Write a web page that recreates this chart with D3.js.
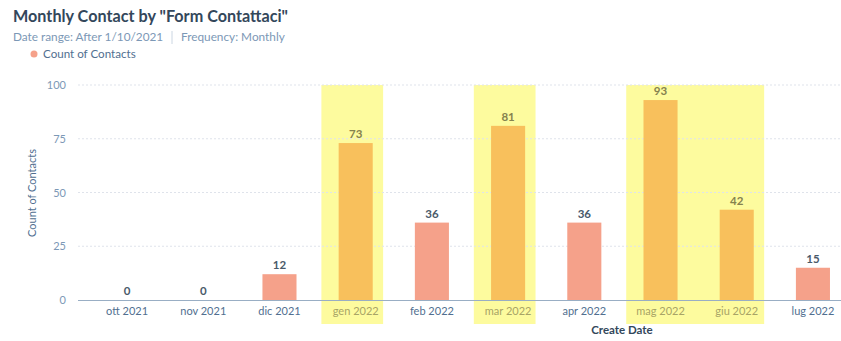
<!DOCTYPE html>
<html><head><meta charset="utf-8">
<script src="https://cdn.jsdelivr.net/npm/d3@7"></script>
<style>body{margin:0;background:#fff}svg{display:block}text{font-family:Lato,"Open Sans",sans-serif}</style>
</head><body>
<svg id="c" width="841" height="341"></svg>
<script>
const categories = ["ott 2021","nov 2021","dic 2021","gen 2022","feb 2022","mar 2022","apr 2022","mag 2022","giu 2022","lug 2022"];
const counts = [0,0,12,73,36,81,36,93,42,15];
const highlighted = [false,false,false,true,false,true,false,true,true,false];
const highlightGroups = [["gen 2022","gen 2022"],["mar 2022","mar 2022"],["mag 2022","giu 2022"]];
const yTicks = [0,25,50,75,100];

const svg = d3.select("#c");
const x = d3.scaleBand().domain(categories).range([89, 851]).paddingInner(0.553).paddingOuter(0.276);
const y = d3.scaleLinear().domain([0,100]).range([300, 85]);
const step = x.step();

// title
svg.append("text").attr("x",13).attr("y",22).attr("font-size",16.2).attr("font-weight",700).attr("fill","#33475b")
  .text('Monthly Contact by "Form Contattaci"');
svg.append("text").attr("x",13).attr("y",41).attr("font-size",11.8).attr("fill","#7c98b6").text("Date range: After 1/10/2021");
svg.append("line").attr("x1",172).attr("x2",172).attr("y1",31).attr("y2",44).attr("stroke","#cbd6e2");
svg.append("text").attr("x",181).attr("y",41).attr("font-size",11.8).attr("fill","#7c98b6").text("Frequency: Monthly");
svg.append("circle").attr("cx",34).attr("cy",54).attr("r",3.5).attr("fill","#f5a18a");
svg.append("text").attr("x",43).attr("y",58).attr("font-size",11.6).attr("fill","#516f90").text("Count of Contacts");

// highlights
highlightGroups.forEach(([a,b])=>{
  const x0 = x(a) + x.bandwidth()/2 - step*0.45;
  const x1 = x(b) + x.bandwidth()/2 + step*0.36;
  svg.append("rect").attr("x",x0).attr("y",85).attr("width",x1-x0).attr("height",239).attr("fill","#fdfb9e");
});

// grid
svg.append("g").selectAll("line").data(yTicks.filter(d=>d>0)).join("line")
  .attr("x1",78).attr("x2",841).attr("y1",d=>y(d)).attr("y2",d=>y(d))
  .attr("stroke","#dfe3eb").attr("stroke-dasharray","2,2");

// y axis labels
const yAxis = d3.axisLeft(y).tickValues(yTicks).tickSize(0).tickPadding(0);
const yg = svg.append("g").attr("transform","translate(66,0)").call(yAxis);
yg.select(".domain").remove();
yg.selectAll("text").attr("font-size",11).attr("fill","#7c98b6").attr("font-family","Lato,sans-serif");

svg.append("text").attr("transform","translate(36,193) rotate(-90)").attr("text-anchor","middle")
  .attr("font-size",11).attr("fill","#516f90").text("Count of Contacts");

// bars
svg.append("g").selectAll("rect").data(categories).join("rect")
  .attr("x",d=>x(d)).attr("width",x.bandwidth())
  .attr("y",(d,i)=>y(counts[i])).attr("height",(d,i)=>y(0)-y(counts[i]))
  .attr("fill",(d,i)=>highlighted[i]?"#f8c05c":"#f5a18a");

// value labels
svg.append("g").selectAll("text").data(categories).join("text")
  .attr("x",d=>x(d)+x.bandwidth()/2).attr("y",(d,i)=>y(counts[i])-5)
  .attr("text-anchor","middle").attr("font-size",11.5).attr("font-weight",700)
  .attr("fill",(d,i)=>highlighted[i]?"#85824e":"#4a5a6a").text((d,i)=>counts[i]);

// x axis
svg.append("line").attr("x1",78).attr("x2",841).attr("y1",300.5).attr("y2",300.5).attr("stroke","#99aec4").attr("stroke-width",1.2);
const xAxis = d3.axisBottom(x).tickSize(0).tickPadding(0);
const xg = svg.append("g").attr("transform","translate(0,307)").call(xAxis);
xg.select(".domain").remove();
xg.selectAll("text").attr("font-size",11).attr("font-family","Lato,sans-serif")
  .attr("fill",(d,i)=>highlighted[i]?"#a8a466":"#516f90");

svg.append("text").attr("x",622).attr("y",334).attr("text-anchor","middle").attr("font-size",11.5)
  .attr("font-weight",700).attr("fill","#33475b").text("Create Date");
</script>
</body></html>
